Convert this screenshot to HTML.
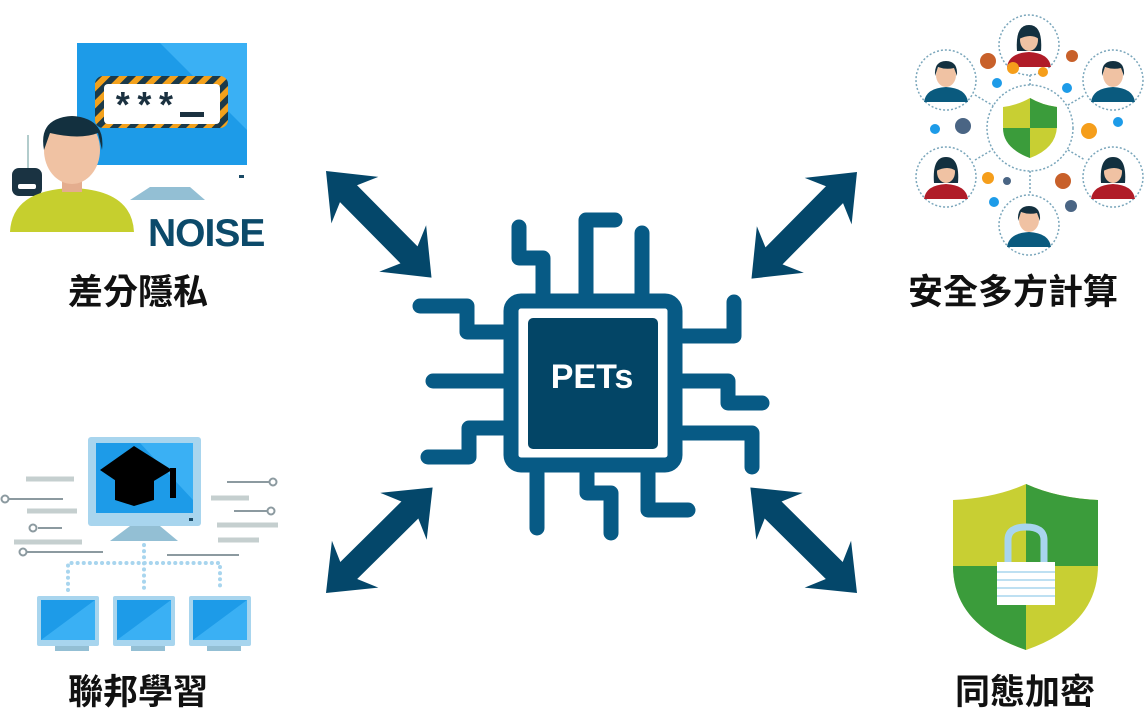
<!DOCTYPE html>
<html><head><meta charset="utf-8"><style>
html,body{margin:0;padding:0;background:#fff;}
body{width:1145px;height:716px;overflow:hidden;position:relative;font-family:"Liberation Sans","Noto Sans CJK TC",sans-serif;}
.lbl{position:absolute;font-weight:bold;font-size:35px;line-height:40px;color:#111;font-family:"Liberation Sans","Noto Sans CJK TC",sans-serif;white-space:nowrap;}
</style></head><body>
<svg width="1145" height="716" viewBox="0 0 1145 716" style="position:absolute;left:0;top:0">
<defs>
<polygon id="arr" points="0,0 41,-33 32,-12 118,-12 109,-33 150,0 109,33 118,12 32,12 41,33" fill="#04476a"/>
<pattern id="stripe" width="12" height="12" patternUnits="userSpaceOnUse" patternTransform="rotate(45)">
<rect width="12" height="12" fill="#f3a11c"/><rect width="6" height="12" fill="#1b3a4a"/></pattern>
<g id="pf">
<circle r="30" fill="#fff" stroke="#7aa6bb" stroke-width="1.5" stroke-dasharray="2,2"/>
<path d="M-22,22 Q-20,8 0,7 Q20,8 22,22 Z" fill="#0a5a7e"/>
<ellipse cx="0" cy="-5" rx="10" ry="12" fill="#f0c2a3"/>
<path d="M-11,-4 Q-12,-19 0,-19 Q12,-19 11,-4 L8,-12 Q0,-10 -8,-13 Z" fill="#13303f"/>
</g>
<g id="pr">
<circle r="30" fill="#fff" stroke="#7aa6bb" stroke-width="1.5" stroke-dasharray="2,2"/>
<path d="M-22,22 Q-20,8 0,7 Q20,8 22,22 Z" fill="#b01c28"/>
<path d="M-12,6 Q-14,-20 0,-20 Q14,-20 12,6 Z" fill="#13303f"/>
<ellipse cx="0" cy="-5" rx="9" ry="11" fill="#f0c2a3"/>
<path d="M-10,-6 Q-10,-18 0,-18 Q10,-18 10,-6 Q2,-12 -10,-6Z" fill="#13303f"/>
</g>
</defs>

<use href="#arr" transform="translate(326,171) rotate(45.3)"/>
<use href="#arr" transform="translate(857,172) rotate(134.7)"/>
<use href="#arr" transform="translate(326,593) rotate(-44.7)"/>
<use href="#arr" transform="translate(857,593) rotate(-135.3)"/>

<g fill="none" stroke="#075a85" stroke-width="15" stroke-linecap="round" stroke-linejoin="round">
<path d="M519,227 V258 H543 V293"/>
<path d="M586,293 V220 H615"/>
<path d="M642,233 V293"/>
<path d="M420,306 H467 V332 H503"/>
<path d="M433,381 H503"/>
<path d="M428,457 H469 V428 H503"/>
<path d="M683,336 H734 V302"/>
<path d="M683,381 H728 V403 H762"/>
<path d="M683,433 H752 V467"/>
<path d="M537,473 V528"/>
<path d="M587,473 V493 H611 V533"/>
<path d="M648,473 V510 H688"/>
<rect x="511" y="301" width="164" height="164" rx="10"/>
</g>
<rect x="528" y="318" width="130" height="131" rx="5" fill="#034566"/>
<text x="592" y="388" text-anchor="middle" font-family="Liberation Sans" font-weight="bold" font-size="34" fill="#fff">PETs</text>

<rect x="77" y="43" width="170" height="125" fill="#1d9be8"/>
<polygon points="160,43 247,43 247,130" fill="#3ab0f4"/>
<rect x="77" y="165" width="170" height="22" fill="#fff"/>
<rect x="239" y="175" width="5" height="3" fill="#1a4a66"/>
<path d="M130,200 L150,187 H190 L205,200 Z" fill="#93bfd4"/>
<rect x="95" y="76" width="133" height="52" rx="8" fill="url(#stripe)"/>
<rect x="104" y="84" width="116" height="40" rx="4" fill="#fff"/>
<text x="112" y="118" font-family="Liberation Mono" font-weight="bold" font-size="36" fill="#1b3140">***</text>
<rect x="180" y="112" width="24" height="5" fill="#1b3140"/>
<line x1="28" y1="135" x2="28" y2="170" stroke="#9bb" stroke-width="1.5"/>
<rect x="12" y="168" width="30" height="28" rx="7" fill="#1a3342"/>
<rect x="18" y="184" width="18" height="5" rx="2" fill="#fff"/>
<path d="M10,232 Q12,190 72,188 Q132,190 134,232 Z" fill="#c6cf2e"/>
<rect x="62" y="170" width="20" height="22" fill="#e4ad8e"/>
<ellipse cx="72" cy="150" rx="28" ry="34" fill="#f0c2a3"/>
<path d="M44,150 Q38,118 72,116 Q106,118 102,150 L98,133 Q80,140 50,133 Z" fill="#13303f"/>
<text x="148" y="246" font-family="Liberation Sans" font-weight="bold" font-size="39" fill="#0c4a6a" letter-spacing="-1">NOISE</text>

<g stroke="#7aa6bb" stroke-width="1.5" stroke-dasharray="2,2">
<line x1="1030" y1="75" x2="1030" y2="195"/>
<line x1="975" y1="95" x2="1085" y2="160"/>
<line x1="975" y1="160" x2="1085" y2="95"/>
</g>
<circle cx="1030" cy="128" r="43" fill="#fff" stroke="#7aa6bb" stroke-width="1.5" stroke-dasharray="2,2"/>
<path d="M1003,107 Q1018,105 1030,98 Q1042,105 1057,107 V125 Q1057,148 1030,158 Q1003,148 1003,125 Z" fill="#c8cf33"/>
<path d="M1030,98 Q1042,105 1057,107 V128 H1030 Z M1003,128 H1030 V158 Q1003,148 1003,128 Z" fill="#3b9c3b"/>
<use href="#pr" x="1029" y="45"/>
<use href="#pf" x="946" y="80"/>
<use href="#pf" x="1113" y="80"/>
<use href="#pr" x="946" y="177"/>
<use href="#pr" x="1113" y="177"/>
<use href="#pf" x="1029" y="225"/>
<g>
<circle cx="988" cy="61" r="8" fill="#c8602a"/><circle cx="1013" cy="68" r="6" fill="#f59e1b"/>
<circle cx="997" cy="83" r="5" fill="#1d9be8"/><circle cx="1043" cy="72" r="5" fill="#f59e1b"/>
<circle cx="1072" cy="56" r="6" fill="#c8602a"/><circle cx="1067" cy="88" r="5" fill="#1d9be8"/>
<circle cx="935" cy="129" r="5" fill="#1d9be8"/><circle cx="963" cy="126" r="8" fill="#4a6584"/>
<circle cx="1089" cy="131" r="8" fill="#f59e1b"/><circle cx="1118" cy="122" r="5" fill="#1d9be8"/>
<circle cx="988" cy="178" r="6" fill="#f59e1b"/><circle cx="1007" cy="181" r="4" fill="#4a6584"/>
<circle cx="1063" cy="181" r="8" fill="#c8602a"/><circle cx="994" cy="202" r="5" fill="#1d9be8"/>
<circle cx="1071" cy="206" r="6" fill="#4a6584"/>
</g>

<g stroke="#c5cfcf" stroke-width="5">
<line x1="26" y1="479" x2="74" y2="479"/><line x1="27" y1="511" x2="77" y2="511"/>
<line x1="14" y1="542" x2="82" y2="542"/><line x1="211" y1="498" x2="249" y2="498"/>
<line x1="217" y1="525" x2="278" y2="525"/><line x1="218" y1="540" x2="259" y2="540"/>
</g>
<g stroke="#8c9aa0" stroke-width="2" fill="#fff">
<line x1="8" y1="499" x2="63" y2="499"/><line x1="38" y1="528" x2="62" y2="528"/>
<line x1="27" y1="552" x2="103" y2="552"/><line x1="227" y1="482" x2="269" y2="482"/>
<line x1="234" y1="511" x2="267" y2="511"/><line x1="167" y1="555" x2="239" y2="555"/>
<circle cx="5" cy="499" r="3.5"/><circle cx="33" cy="528" r="3.5"/><circle cx="23" cy="552" r="3.5"/>
<circle cx="273" cy="482" r="3.5"/><circle cx="271" cy="511" r="3.5"/>
</g>
<g stroke="#a8d5ee" stroke-width="4" stroke-dasharray="0.1,6" stroke-linecap="round" fill="none">
<path d="M144,545 V590 M68,590 V563 H220 V590"/>
</g>
<rect x="88" y="437" width="113" height="89" rx="3" fill="#a8d5ee"/>
<rect x="96" y="443" width="97" height="70" fill="#1d9be8"/>
<polygon points="140,443 193,443 193,500" fill="#3ab0f4"/>
<rect x="189" y="518" width="4" height="3" fill="#1a4a66"/>
<path d="M110,541 L130,526 H160 L178,541 Z" fill="#93bfd4"/>
<polygon points="100,470 134,446 172,470 134,493" fill="#000"/>
<path d="M115,478 V500 L134,506 L154,500 V478 L134,488 Z" fill="#000"/>
<rect x="170" y="468" width="6" height="30" fill="#000"/>
<g>
<rect x="37" y="596" width="62" height="50" rx="2" fill="#a8d5ee"/><rect x="41" y="600" width="54" height="40" fill="#1d9be8"/>
<rect x="113" y="596" width="62" height="50" rx="2" fill="#a8d5ee"/><rect x="117" y="600" width="54" height="40" fill="#1d9be8"/>
<rect x="189" y="596" width="62" height="50" rx="2" fill="#a8d5ee"/><rect x="193" y="600" width="54" height="40" fill="#1d9be8"/>
<polygon points="41,640 95,600 95,640" fill="#3ab0f4"/><polygon points="117,640 171,600 171,640" fill="#3ab0f4"/><polygon points="193,640 247,600 247,640" fill="#3ab0f4"/>
<rect x="55" y="646" width="34" height="5" fill="#93bfd4"/><rect x="131" y="646" width="34" height="5" fill="#93bfd4"/><rect x="207" y="646" width="34" height="5" fill="#93bfd4"/>
</g>

<path d="M953,500 Q995,498 1026,484 Q1057,498 1098,500 V565 Q1098,625 1026,650 Q953,625 953,565 Z" fill="#c8cf33"/>
<path d="M1026,484 Q1057,498 1098,500 V566 H1026 Z M953,566 H1026 V650 Q953,625 953,566 Z" fill="#3b9c3b"/>
<path d="M1008,562 V540 Q1008,527 1026,527 Q1044,527 1044,540 V562" fill="none" stroke="#a8d5ee" stroke-width="7"/>
<rect x="997" y="562" width="58" height="43" fill="#fff"/>
<g stroke="#a8d5ee" stroke-width="1.5"><line x1="997" y1="572" x2="1055" y2="572"/><line x1="997" y1="580" x2="1055" y2="580"/><line x1="997" y1="588" x2="1055" y2="588"/><line x1="997" y1="596" x2="1055" y2="596"/></g>
</svg>
<div class="lbl" style="left:68px;top:273px">差分隱私</div>
<div class="lbl" style="left:908px;top:273px">安全多方計算</div>
<div class="lbl" style="left:68px;top:673px">聯邦學習</div>
<div class="lbl" style="left:955px;top:673px">同態加密</div>
</body></html>
